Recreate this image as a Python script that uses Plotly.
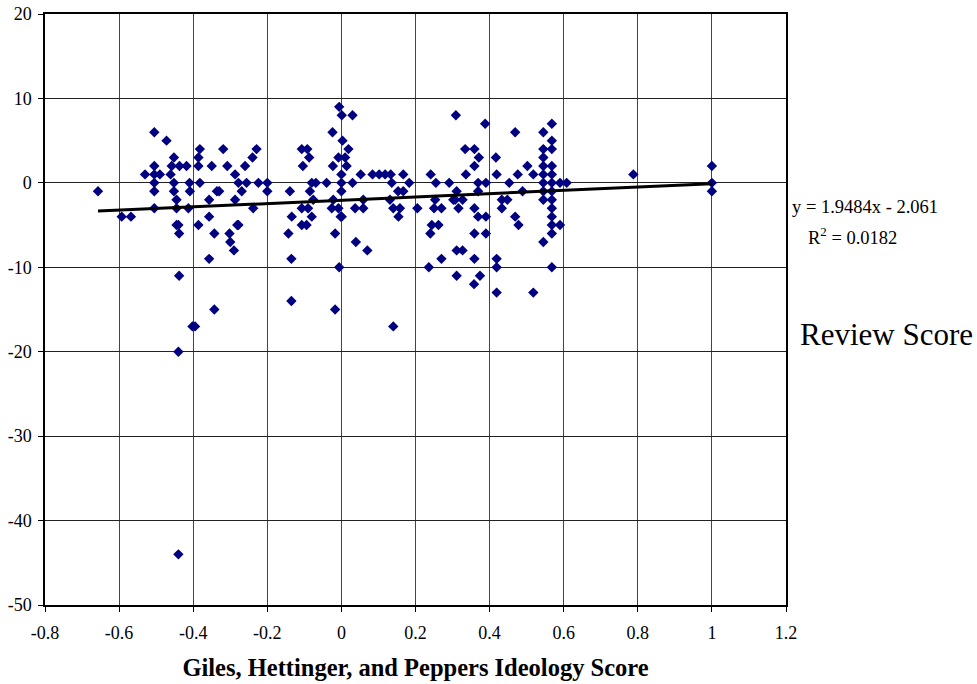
import plotly.graph_objects as go

# Ideology score (x) and review score (y)
ideology = [
    -0.657, -0.593, -0.568, -0.53,
    -0.505, -0.505, -0.505, -0.505, -0.505, -0.505,
    -0.49, -0.472, -0.461, -0.458,
    -0.452, -0.452, -0.452, -0.445, -0.445, -0.445,
    -0.44, -0.438, -0.438, -0.44, -0.44,
    -0.437, -0.418, -0.413, -0.41, -0.409, -0.402, -0.395,
    -0.386, -0.386, -0.386, -0.382, -0.382,
    -0.357, -0.357, -0.357, -0.35, -0.343, -0.343, -0.336, -0.33,
    -0.319, -0.308, -0.302, -0.3, -0.29, -0.287, -0.287, -0.281,
    -0.278, -0.278, -0.269, -0.26, -0.256, -0.24, -0.238, -0.229, -0.224,
    -0.2, -0.2, -0.143, -0.139, -0.135, -0.135, -0.134,
    -0.107, -0.107, -0.107, -0.104, -0.094, -0.092, -0.09, -0.087, -0.085,
    -0.08, -0.08, -0.076, -0.069, -0.04, -0.026, -0.024, -0.023, -0.022,
    -0.017, -0.017, -0.008, -0.008, -0.006, -0.006, -0.002,
    0.0, 0.0, 0.0, 0.001, 0.001, 0.003, 0.01, 0.014, 0.019, 0.03, 0.03,
    0.037, 0.039, 0.052, 0.059, 0.059, 0.07,
    0.084, 0.102, 0.118, 0.133, 0.131, 0.136, 0.14, 0.14,
    0.153, 0.154, 0.158, 0.167, 0.167, 0.183, 0.205,
    0.236, 0.24, 0.241, 0.244, 0.25, 0.255, 0.253, 0.262, 0.27, 0.27,
    0.291, 0.302, 0.307, 0.309, 0.311, 0.311, 0.311, 0.316, 0.327, 0.327,
    0.334, 0.336, 0.359, 0.359, 0.359, 0.359, 0.359, 0.358,
    0.369, 0.369, 0.369, 0.371, 0.374, 0.388, 0.39, 0.39, 0.39,
    0.417, 0.419, 0.419, 0.419, 0.419, 0.433, 0.433, 0.448, 0.453,
    0.469, 0.469, 0.476, 0.478, 0.489, 0.502, 0.518, 0.518,
    0.545, 0.545, 0.545, 0.545, 0.545, 0.545, 0.545, 0.545, 0.545,
    0.568, 0.568, 0.568, 0.568, 0.568, 0.568, 0.568, 0.568, 0.568, 0.568, 0.568, 0.568, 0.568,
    0.59, 0.59, 0.608, 0.788, 1.0, 1.0, 1.0,
]
review = [
    -1, -4, -4, 1,
    6, 2, 1, 0, -1, -3,
    1, 5, 1, 2,
    3, 0, -1, -2, -3, -5,
    -5, -6, -11, -20, -44,
    2, 2, -3, 0, -1, -17, -17,
    3, 2, -5, 4, 0,
    -2, -4, -9, 2, -6, -15, -1, -1,
    4, 2, -6, -7, -8, 1, -2, -5,
    0, -5, -1, 2, 0, 3, -3, 4, 0,
    0, -1, -6, -1, -9, -14, -4,
    4, -3, -5, 2, -5, 4, -3, 3, -1,
    0, -4, -2, 0, 0, -3, 6, 2, -2,
    -6, -15, 3, -3, 9, -10, -4,
    1, 0, -1, 8, -4, 5, 3, 2, 4, 8, 0,
    -3, -7, 1, -2, -3, -8,
    1, 1, 1, 1, -2, 0, -3, -17,
    -1, -4, -3, 1, -1, 0, -3,
    -10, -6, 1, -5, -3, 0, -2, -5, -3, -9,
    0, -2, -2, 8, -1, -8, -11, -3, -2, -8,
    4, 1, 4, 2, -3, -6, -9, -12,
    0, -1, -4, 3, -11, 7, 0, -4, -6,
    3, 1, -9, -10, -13, -2, -3, -2, 0,
    6, -4, 1, -5, -1, 2, 1, -13,
    6, 4, 3, 2, 1, 0, -1, -2, -7,
    7, 5, 4, 2, 1, 0, -1, -2, -3, -4, -5, -6, -10,
    0, -5, 0, 1, 2, 0, -1,
]

slope = 1.9484
intercept = -2.061
x_ticks = [-0.8, -0.6, -0.4, -0.2, 0, 0.2, 0.4, 0.6, 0.8, 1, 1.2]
x_labels = ["-0.8", "-0.6", "-0.4", "-0.2", "0", "0.2", "0.4", "0.6", "0.8", "1", "1.2"]
y_ticks = [-50, -40, -30, -20, -10, 0, 10, 20]
y_labels = ["-50", "-40", "-30", "-20", "-10", "0", "10", "20"]

x_min, x_max = min(ideology), max(ideology)
trend_x = [x_min, x_max]
trend_y = [slope * v + intercept for v in trend_x]

fig = go.Figure()
fig.add_trace(go.Scatter(
    x=ideology, y=review, mode="markers",
    marker=dict(symbol="diamond", size=8, color="#000080", line=dict(width=0)),
    showlegend=False, hoverinfo="x+y",
))
fig.add_trace(go.Scatter(
    x=trend_x, y=trend_y, mode="lines",
    line=dict(color="black", width=3), showlegend=False, hoverinfo="skip",
))

FF = "Liberation Serif"
fig.update_layout(
    width=977, height=684,
    margin=dict(l=45, r=191, t=14, b=79),
    paper_bgcolor="white", plot_bgcolor="white",
    font=dict(family=FF, color="black", size=18),
    xaxis=dict(
        range=[-0.8, 1.2], tickmode="array", tickvals=x_ticks, ticktext=x_labels,
        showgrid=True, gridcolor="#444", gridwidth=1, zeroline=False,
        showline=True, linecolor="black", linewidth=1.5, mirror=True,
        ticks="outside", ticklen=5, tickcolor="black", automargin=False,
        tickfont=dict(size=18, family=FF, color="black"),
        ticklabelstandoff=6,
        title=dict(text="<b>Giles, Hettinger, and Peppers Ideology Score</b>",
                   font=dict(size=24.5, family=FF, color="black"), standoff=17),
    ),
    yaxis=dict(
        range=[-50, 20], tickmode="array", tickvals=y_ticks, ticktext=y_labels,
        showgrid=True, gridcolor="#222", gridwidth=1, zeroline=False,
        showline=True, linecolor="black", linewidth=1.5, mirror=True,
        ticks="outside", ticklen=5, tickcolor="black", automargin=False,
        tickfont=dict(size=18, family=FF, color="black"),
        ticklabelstandoff=3,
    ),
    annotations=[
        dict(xref="paper", yref="paper", x=1.0054, y=0.673, xanchor="left", yanchor="middle",
             text="y = 1.9484x - 2.061", showarrow=False,
             font=dict(size=18.5, family=FF, color="black")),
        dict(xref="paper", yref="paper", x=1.027, y=0.625, xanchor="left", yanchor="middle",
             text="R<sup>2</sup> = 0.0182", showarrow=False,
             font=dict(size=18.5, family=FF, color="black")),
        dict(xref="paper", yref="paper", x=1.016, y=0.457, xanchor="left", yanchor="middle",
             text="Review Score", showarrow=False,
             font=dict(size=31, family=FF, color="black")),
    ],
)

fig.write_html(
    "out.html",
    config={"displayModeBar": False},
    post_script="document.body.style.margin='0';document.body.style.overflow='hidden';",
)
